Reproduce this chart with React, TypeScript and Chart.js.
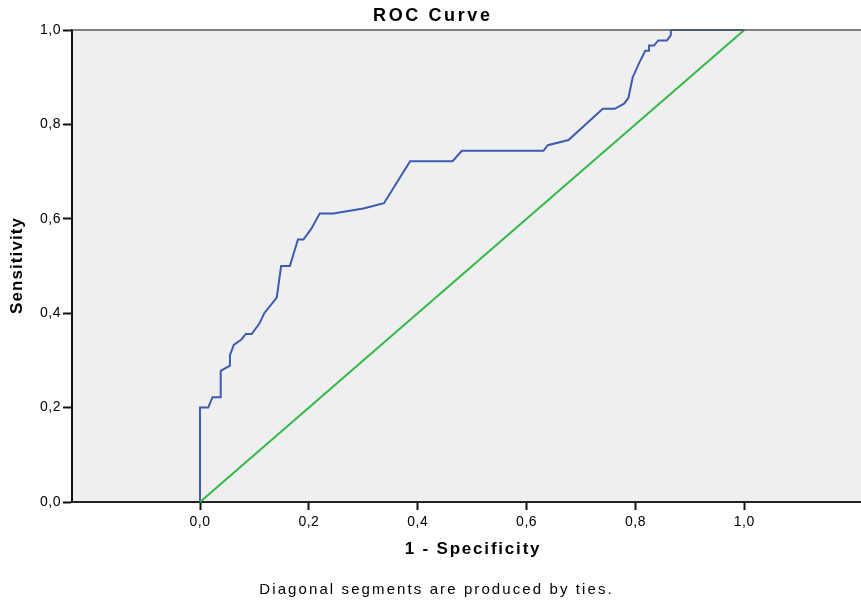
import React, { useEffect, useRef } from "react";
import { Chart, registerables } from "chart.js";

Chart.register(...registerables);

// ROC curve (1 - specificity, sensitivity)
const fprValues = [
  0, 0, 0.015, 0.023, 0.038, 0.038, 0.055, 0.055, 0.062, 0.076, 0.084, 0.095,
  0.109, 0.118, 0.141, 0.149, 0.165, 0.18, 0.19, 0.204, 0.22, 0.245, 0.3,
  0.338, 0.386, 0.464, 0.481, 0.631, 0.639, 0.677, 0.74, 0.762, 0.779, 0.787,
  0.795, 0.808, 0.818, 0.825, 0.825, 0.834, 0.842, 0.858, 0.865, 0.865, 1,
];
const tprValues = [
  0, 0.2, 0.2, 0.222, 0.222, 0.278, 0.289, 0.311, 0.333, 0.344, 0.356, 0.356,
  0.378, 0.4, 0.433, 0.5, 0.5, 0.556, 0.556, 0.578, 0.611, 0.611, 0.622,
  0.633, 0.722, 0.722, 0.744, 0.744, 0.756, 0.767, 0.833, 0.833, 0.844, 0.856,
  0.9, 0.933, 0.956, 0.956, 0.967, 0.967, 0.978, 0.978, 0.989, 1, 1,
];
// Reference (chance) line
const refX = [0, 1];
const refY = [0, 1];

const xTickValues = [0, 0.2, 0.4, 0.6, 0.8, 1.0];
const yTickValues = [0, 0.2, 0.4, 0.6, 0.8, 1.0];

const titleText = "ROC Curve";
const xTitleText = "1 - Specificity";
const yTitleText = "Sensitivity";
const footerText = "Diagonal segments are produced by ties.";

const FONT = 'Arial, "Liberation Sans", sans-serif';

const fmt = (v: number) => Number(v).toFixed(1).replace(".", ",");

const decorPlugin = {
  id: "rocDecor",
  beforeDraw(chart: any) {
    const { ctx, chartArea } = chart;
    const { left, top, right, bottom } = chartArea;
    ctx.save();
    ctx.fillStyle = "#efefef";
    ctx.fillRect(left, top, right - left, bottom - top);
    ctx.restore();
    (ctx as any).letterSpacing = "0.5px";
  },
  afterDraw(chart: any) {
    const { ctx, chartArea } = chart;
    const { left, top, right, bottom } = chartArea;
    ctx.save();
    ctx.strokeStyle = "#5a5a5a";
    ctx.lineWidth = 1.5;
    ctx.beginPath();
    ctx.moveTo(left, top);
    ctx.lineTo(right, top);
    ctx.stroke();

    const drawText = (
      text: string,
      x: number,
      y: number,
      font: string,
      spacing: number,
      rotate = false
    ) => {
      ctx.save();
      (ctx as any).letterSpacing = spacing + "px";
      ctx.font = font;
      ctx.fillStyle = "#000";
      ctx.textAlign = "center";
      ctx.textBaseline = "middle";
      ctx.translate(x, y);
      if (rotate) ctx.rotate(-Math.PI / 2);
      ctx.fillText(text, spacing / 2, 0);
      ctx.restore();
    };

    const cx = chart.width / 2;
    drawText(titleText, cx + 1, 16, `bold 18px ${FONT}`, 2.6);
    const xs = chart.scales.x;
    const xMid = (xs.getPixelForValue(0) + xs.getPixelForValue(1)) / 2;
    drawText(xTitleText, xMid, 549, `bold 17px ${FONT}`, 1.8);
    drawText(yTitleText, 17.5, (top + bottom) / 2, `bold 17px ${FONT}`, 1.1, true);
    drawText(footerText, 435.5, 590, `15px ${FONT}`, 2.1);
    ctx.restore();
  },
};

export default function App() {
  const canvasRef = useRef<HTMLCanvasElement | null>(null);

  useEffect(() => {
    document.body.style.margin = "0";
    const canvas = canvasRef.current;
    if (!canvas) return;

    const curve = fprValues.map((x, i) => ({ x, y: tprValues[i] }));
    const diag = refX.map((x, i) => ({ x, y: refY[i] }));

    const chart = new Chart(canvas, {
      type: "scatter",
      data: {
        datasets: [
          {
            label: "Reference Line",
            data: diag,
            showLine: true,
            borderColor: "#33b949",
            borderWidth: 2,
            pointRadius: 0,
            tension: 0,
            clip: false as any,
          },
          {
            label: "ROC",
            data: curve,
            showLine: true,
            borderColor: "#3c5cb4",
            borderWidth: 2,
            pointRadius: 0,
            tension: 0,
            clip: false as any,
          },
        ],
      },
      options: {
        animation: false,
        responsive: false,
        devicePixelRatio: 1,
        layout: { padding: { top: 30, left: 0, right: 0, bottom: 0 } },
        plugins: {
          legend: { display: false },
          tooltip: { enabled: false },
          title: { display: false },
        },
        scales: {
          x: {
            type: "linear",
            min: -0.2352,
            max: 1.2144,
            afterBuildTicks: (scale: any) => {
              scale.ticks = xTickValues.map((v) => ({ value: v }));
            },
            afterFit: (scale: any) => {
              scale.height = 98;
            },
            ticks: {
              callback: (v: any) => fmt(v),
              color: "#000",
              font: { family: FONT, size: 14 },
              padding: 4,
              maxRotation: 0,
              autoSkip: false,
            },
            grid: {
              drawOnChartArea: false,
              drawTicks: true,
              tickLength: 8,
              tickWidth: 2,
              tickColor: "#111",
            },
            border: { display: true, color: "#222", width: 2 },
          },
          y: {
            type: "linear",
            min: 0,
            max: 1,
            afterBuildTicks: (scale: any) => {
              scale.ticks = yTickValues.map((v) => ({ value: v }));
            },
            afterFit: (scale: any) => {
              scale.width = 72;
            },
            ticks: {
              callback: (v: any) => fmt(v),
              color: "#000",
              font: { family: FONT, size: 14 },
              padding: 2,
            },
            grid: {
              drawOnChartArea: false,
              drawTicks: true,
              tickLength: 9,
              tickWidth: 2,
              tickColor: "#111",
            },
            border: { display: true, color: "#111", width: 2 },
          },
        },
      },
      plugins: [decorPlugin],
    });

    return () => chart.destroy();
  }, []);

  return (
    <div style={{ position: "absolute", left: 0, top: 0, width: 861, height: 600, background: "#fff" }}>
      <canvas ref={canvasRef} width={861} height={600} />
    </div>
  );
}
